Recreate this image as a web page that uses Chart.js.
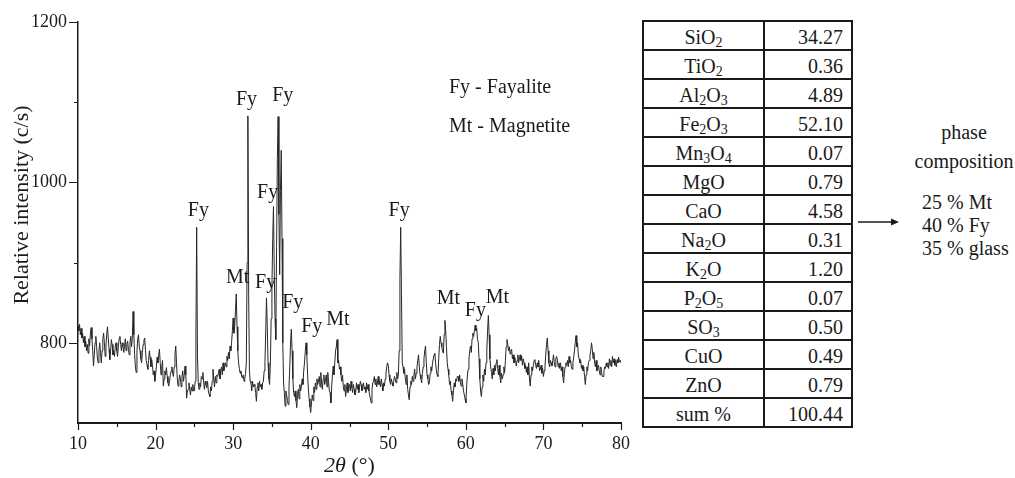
<!DOCTYPE html>
<html>
<head>
<meta charset="utf-8">
<script src="https://cdn.jsdelivr.net/npm/chart.js@4.4.0/dist/chart.umd.min.js"></script>
<style>
  body { margin: 0; width: 1015px; height: 478px; overflow: hidden; position: relative; background: #fff;
         font-family: 'Liberation Serif', 'DejaVu Serif', serif; color: #1a1a1a; }
  #xrd { position: absolute; left: 0; top: 0; }
  #oxides { position: absolute; left: 642px; top: 20px; border-collapse: collapse; table-layout: fixed; font-size: 20px; }
  #oxides td { border: 2px solid #1a1a1a; padding: 0; padding-top: 3px; height: 24px; line-height: 20px; vertical-align: middle; }
  #oxides td.name { width: 119px; text-align: center; }
  #oxides td.wt { width: 78px; text-align: right; padding-right: 8px; }
  #oxides sub { font-size: 14px; line-height: 0; vertical-align: -3px; }
  #arrow { position: absolute; left: 855px; top: 214px; }
  #phase { position: absolute; left: 900px; top: 118px; width: 128px; font-size: 20px; line-height: 29px; text-align: center; }
  #shares { position: absolute; left: 922px; top: 191px; font-size: 20px; line-height: 23px; }
</style>
</head>
<body>
<canvas id="xrd" width="640" height="478"></canvas>
<table id="oxides"></table>
<svg id="arrow" width="50" height="16">
  <line x1="3" y1="8" x2="40" y2="8" stroke="#1a1a1a" stroke-width="1.3"/>
  <polygon points="36,4.5 44,8 36,11.5" fill="#1a1a1a"/>
</svg>
<div id="phase">phase<br>composition</div>
<div id="shares"></div>
<script>
// XRD scan, counts every 0.1 deg 2theta
const scanStart = 10;
const scanStep = 0.1;

const counts10to30 = [
  821, 815, 823, 810, 818, 806, 812, 800, 808, 795,
  802, 790, 798, 787, 805, 796, 812, 819, 805, 790,
  771, 785, 800, 808, 795, 781, 775, 790, 800, 788,
  775, 790, 805, 812, 800, 783, 795, 810, 820, 806,
  792, 779, 790, 804, 798, 785, 790, 783, 795, 800,
  790, 783, 795, 805, 808, 798, 790, 800, 795, 788,
  795, 805, 790, 798, 802, 792, 785, 800, 808, 795,
  805, 839, 810, 785, 770, 763, 790, 805, 810, 795,
  790, 780, 775, 788, 798, 803, 806, 790, 778, 772,
  767, 778, 790, 782, 770, 779, 772, 760, 765, 752,
  760, 770, 782, 775, 785, 792, 775, 760, 770, 778,
  746, 755, 765, 760, 769, 758, 750, 746, 752, 760,
  765, 770, 762, 758, 770, 785, 796, 775, 755, 746,
  752, 760, 755, 745, 758, 765, 752, 760, 771, 760,
  731, 740, 742, 750, 742, 735, 745, 740, 748, 740,
  740, 752, 810, 944, 785, 750, 742, 750, 745, 758,
  755, 763, 750, 742, 752, 748, 744, 752, 740, 736,
  733, 745, 740, 752, 767, 755, 745, 758, 750, 760,
  758, 762, 767, 755, 765, 770, 760, 775, 765, 770,
  775, 770, 783, 778, 788, 780, 796, 790, 800, 815
];

const counts30to50 = [
  831, 812, 820, 840, 861, 820, 790, 775, 768, 762,
  765, 758, 756, 760, 752, 755, 762, 775, 900, 1083,
  860, 765, 752, 750, 740, 752, 745, 748, 746, 738,
  727, 745, 750, 740, 752, 745, 748, 742, 750, 752,
  765, 775, 815, 856, 820, 775, 755, 748, 775, 830,
  870, 930, 970, 890, 830, 804, 920, 1030, 1082, 960,
  885, 990, 1040, 930, 800, 750, 738, 721, 740, 735,
  728, 723, 745, 770, 800, 817, 790, 755, 738, 733,
  740, 728, 719, 735, 742, 730, 748, 740, 746, 755,
  748, 765, 775, 790, 800, 785, 760, 742, 730, 720,
  713, 725, 735, 728, 745, 738, 750, 742, 755, 748,
  752, 758, 745, 763, 750, 742, 755, 760, 748, 752,
  760, 745, 763, 752, 740, 738, 725, 745, 760, 771,
  760, 775, 790, 795, 804, 775, 778, 767, 770, 760,
  752, 760, 745, 740, 748, 733, 742, 750, 738, 745,
  748, 740, 752, 744, 738, 748, 742, 735, 738, 750,
  742, 748, 738, 745, 752, 748, 740, 745, 750, 742,
  745, 738, 750, 742, 748, 740, 735, 730, 725, 742,
  750, 752, 758, 748, 755, 745, 750, 758, 748, 752,
  745, 755, 748, 740, 750, 746, 755, 762, 770, 775
];

const counts50to80 = [
  772, 760, 752, 748, 755, 750, 746, 752, 758, 755,
  750, 763, 755, 760, 790, 880, 944, 860, 775, 770,
  762, 767, 755, 748, 760, 742, 735, 729, 745, 752,
  748, 758, 752, 760, 767, 755, 762, 770, 778, 785,
  770, 760, 755, 750, 762, 770, 780, 790, 796, 775,
  760, 755, 748, 750, 762, 770, 765, 775, 780, 785,
  787, 775, 765, 760, 758, 780, 798, 808, 800, 795,
  790, 787, 810, 828, 815, 795, 775, 767, 760, 748,
  752, 740, 735, 727, 740, 750, 745, 755, 752, 758,
  758, 752, 760, 750, 746, 755, 748, 740, 735, 730,
  725, 745, 760, 767, 780, 790, 796, 788, 805, 812,
  808, 815, 822, 815, 818, 805, 800, 780, 755, 740,
  733, 745, 760, 752, 767, 760, 775, 790, 815, 834,
  810, 780, 770, 763, 755, 768, 760, 772, 765, 775,
  779, 768, 760, 772, 758, 750, 762, 755, 760, 770,
  763, 778, 795, 804, 798, 790, 795, 786, 790, 792,
  780, 785, 775, 782, 778, 771, 778, 785, 775, 780,
  785, 778, 783, 772, 780, 775, 768, 772, 763, 770,
  760, 775, 755, 746, 760, 770, 765, 772, 778, 779,
  772, 768, 775, 770, 778, 765, 767, 772, 762, 768,
  758, 765, 770, 785, 798, 806, 790, 775, 770, 778,
  775, 771, 778, 785, 775, 770, 780, 783, 778, 770,
  775, 768, 775, 765, 770, 758, 750, 762, 770, 775,
  772, 778, 770, 783, 775, 778, 770, 767, 775, 782,
  790, 800, 809, 795, 800, 785, 780, 775, 778, 768,
  772, 765, 770, 758, 748, 760, 770, 765, 775, 778,
  785, 790, 800, 792, 780, 788, 775, 770, 778, 765,
  767, 772, 765, 760, 770, 763, 758, 758, 765, 770,
  768, 775, 770, 775, 768, 780, 772, 778, 770, 783,
  775, 780, 772, 778, 770, 779, 775, 782, 776, 778,
  775
];

// phase tags over the reflections
const peakTags = ['Fy', 'Fy', 'Fy', 'Fy', 'Mt', 'Fy', 'Fy', 'Fy', 'Mt', 'Fy', 'Mt', 'Fy', 'Mt'];
// where each tag text sits (2theta, counts)
const tagAngle = [25.52, 31.73, 36.39, 34.45, 30.57, 34.19, 37.68, 40.14, 43.5, 51.4, 57.74, 61.23, 64.08];
const tagLevel = [965, 1103, 1108, 987, 881, 875, 850, 820, 829, 965, 855, 840, 856];

const phaseKey = ['Fy - Fayalite', 'Mt - Magnetite'];

// chemical composition, wt %
const oxides = ['SiO2', 'TiO2', 'Al2O3', 'Fe2O3', 'Mn3O4', 'MgO', 'CaO', 'Na2O', 'K2O', 'P2O5', 'SO3', 'CuO', 'ZnO', 'sum %'];
const oxideWt = [34.27, 0.36, 4.89, 52.10, 0.07, 0.79, 4.58, 0.31, 1.20, 0.07, 0.50, 0.49, 0.79, 100.44];

const phaseShare = [25, 40, 35];
const phaseName = ['Mt', 'Fy', 'glass'];

const counts = counts10to30.concat(counts30to50, counts50to80);
const scan = counts.map((c, i) => ({ x: +(scanStart + i * scanStep).toFixed(1), y: c }));

const serif = "'Liberation Serif', 'DejaVu Serif', serif";
const ink = '#1a1a1a';

// tick marks, tags and axis titles
const decor = {
  id: 'decor',
  afterDraw(chart) {
    const { ctx, chartArea: area, scales: { x, y } } = chart;
    ctx.save();
    ctx.strokeStyle = ink;
    ctx.lineWidth = 1.2;
    ctx.beginPath();
    for (let v = 10; v <= 80; v += 5) {
      const px = Math.round(x.getPixelForValue(v)) + 0.5;
      const len = v % 10 === 0 ? 7 : 4;
      ctx.moveTo(px, area.bottom);
      ctx.lineTo(px, area.bottom + len);
    }
    for (let v = 800; v <= 1200; v += 100) {
      const py = Math.round(y.getPixelForValue(v)) + 0.5;
      const len = v % 200 === 0 ? 9 : 4;
      ctx.moveTo(area.left, py);
      ctx.lineTo(area.left - len, py);
    }
    ctx.stroke();

    ctx.fillStyle = ink;
    ctx.font = '20px ' + serif;
    ctx.textAlign = 'center';
    ctx.textBaseline = 'middle';
    peakTags.forEach((t, i) => {
      ctx.fillText(t, x.getPixelForValue(tagAngle[i]), y.getPixelForValue(tagLevel[i]));
    });

    ctx.textAlign = 'left';
    ctx.fillText(phaseKey[0], area.left + 371, area.top + 66);
    ctx.fillText(phaseKey[1], area.left + 371, area.top + 105);

    // y title
    ctx.save();
    ctx.translate(22, 205);
    ctx.rotate(-Math.PI / 2);
    ctx.textAlign = 'center';
    ctx.font = '22px ' + serif;
    ctx.fillText('Relative intensity (c/s)', 0, 0);
    ctx.restore();

    // x title: italic 2θ then (°)
    const a = '2θ', b = ' (°)';
    ctx.font = 'italic 22px ' + serif;
    const wa = ctx.measureText(a).width;
    ctx.font = '22px ' + serif;
    const wb = ctx.measureText(b).width;
    const x0 = (area.left + area.right) / 2 - (wa + wb) / 2;
    ctx.font = 'italic 22px ' + serif;
    ctx.fillText(a, x0, 466);
    ctx.font = '22px ' + serif;
    ctx.fillText(b, x0 + wa, 466);
    ctx.restore();
  }
};

new Chart(document.getElementById('xrd'), {
  type: 'scatter',
  data: {
    datasets: [{
      data: scan,
      showLine: true,
      borderColor: '#262626',
      borderWidth: 1,
      pointRadius: 0,
      tension: 0
    }]
  },
  options: {
    responsive: false,
    animation: false,
    devicePixelRatio: 1,
    layout: { padding: { top: 22, right: 18, left: 0, bottom: 0 } },
    plugins: { legend: { display: false }, tooltip: { enabled: false } },
    scales: {
      x: {
        type: 'linear', min: 10, max: 80,
        grid: { display: false, drawTicks: false },
        border: { display: true, color: ink, width: 2 },
        ticks: { stepSize: 10, padding: 10, color: ink, font: { family: serif, size: 18 }, maxRotation: 0 },
        afterFit: s => { s.height = 55; }
      },
      y: {
        type: 'linear', min: 700, max: 1200,
        grid: { display: false, drawTicks: false },
        border: { display: true, color: ink, width: 1.5 },
        ticks: {
          stepSize: 100, padding: 11, color: ink, font: { family: serif, size: 18 },
          callback: v => (v % 200 === 0 ? v : '')
        },
        afterFit: s => { s.width = 78; }
      }
    }
  },
  plugins: [decor]
});

// oxide table
const table = document.getElementById('oxides');
oxides.forEach((name, i) => {
  const tr = document.createElement('tr');
  tr.innerHTML = `<td class="name">${name.replace(/(\d)/g, '<sub>$1</sub>')}</td><td class="wt">${oxideWt[i].toFixed(2)}</td>`;
  table.appendChild(tr);
});

document.getElementById('shares').innerHTML =
  phaseShare.map((p, i) => `${p} % ${phaseName[i]}`).join('<br>');
</script>
</body>
</html>
